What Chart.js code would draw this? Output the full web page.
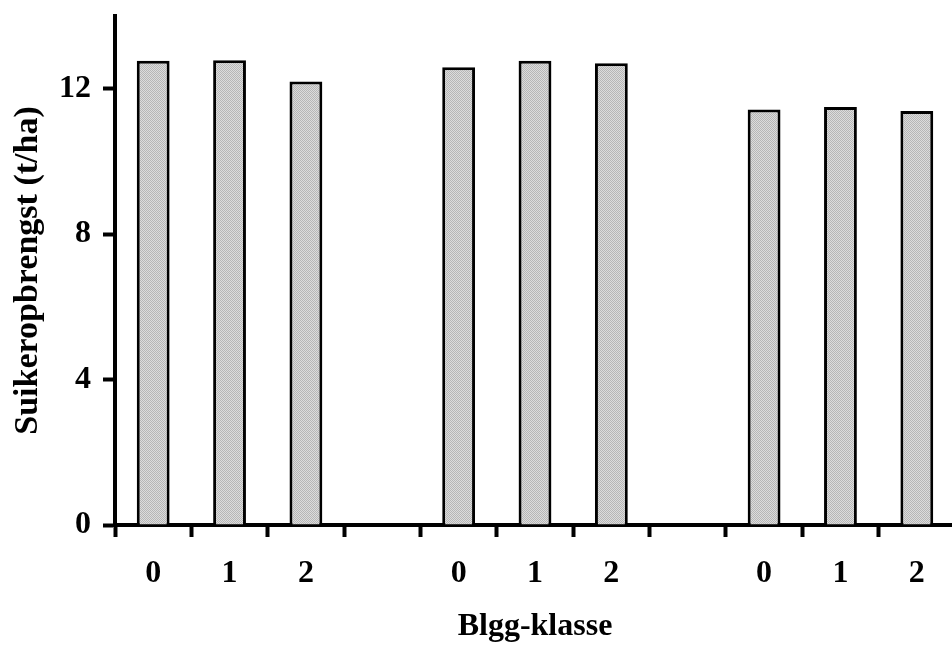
<!DOCTYPE html>
<html>
<head>
<meta charset="utf-8">
<script src="https://cdn.jsdelivr.net/npm/chart.js@4/dist/chart.umd.min.js"></script>
<style>
  html, body { margin: 0; padding: 0; background: #fff; overflow: hidden; }
  canvas { display: block; }
</style>
</head>
<body>
<canvas id="grafiek" width="960" height="646"></canvas>
<script>
// categorieen: drie groepen Blgg-klasse 0,1,2 met een lege kolom ertussen
const klassen = ["0", "1", "2", "", "0", "1", "2", "", "0", "1", "2"];
const suikeropbrengst = [12.77, 12.78, 12.2, null, 12.59, 12.77, 12.7, null, 11.43, 11.5, 11.39];
const yTicks = [0, 4, 8, 12];
const yMax = 14;

const lettertype = "'Liberation Serif', 'Times New Roman', serif";

// grijs stippelpatroon voor de staven
function maakPatroon() {
  const c = document.createElement("canvas");
  c.width = 2;
  c.height = 2;
  const g = c.getContext("2d");
  g.fillStyle = "#dcdcdc";
  g.fillRect(0, 0, 2, 2);
  g.fillStyle = "#b6b6b6";
  g.fillRect(0, 0, 1, 1);
  g.fillRect(1, 1, 1, 1);
  return g.createPattern(c, "repeat");
}

const ctx = document.getElementById("grafiek");

new Chart(ctx, {
  type: "bar",
  data: {
    labels: klassen,
    datasets: [
      {
        data: suikeropbrengst,
        backgroundColor: maakPatroon(),
        borderColor: "#000",
        borderWidth: 3,
        categoryPercentage: 1,
        barPercentage: 0.43
      }
    ]
  },
  options: {
    responsive: false,
    animation: false,
    layout: { padding: { top: 16, right: 5, left: 0, bottom: 0 } },
    plugins: {
      legend: { display: false },
      tooltip: { enabled: false }
    },
    scales: {
      x: {
        offset: true,
        grid: {
          offset: true,
          drawOnChartArea: false,
          tickLength: 12,
          tickWidth: 4,
          tickColor: "#000"
        },
        border: { color: "#000", width: 4 },
        ticks: {
          color: "#000",
          padding: 18,
          maxRotation: 0,
          autoSkip: false,
          font: { family: lettertype, size: 32, weight: "bold" }
        },
        title: {
          display: true,
          text: "Blgg-klasse",
          color: "#000",
          padding: { top: 10, bottom: 0 },
          font: { family: lettertype, size: 32, weight: "bold" }
        },
        afterFit: (scale) => {
          scale.height = 121;
          scale.paddingLeft = 0;
          scale.paddingRight = 0;
        }
      },
      y: {
        min: 0,
        max: yMax,
        afterBuildTicks: (scale) => {
          scale.ticks = yTicks.map((v) => ({ value: v }));
        },
        grid: {
          drawOnChartArea: false,
          tickLength: 12,
          tickWidth: 4,
          tickColor: "#000"
        },
        border: { color: "#000", width: 4 },
        ticks: {
          color: "#000",
          padding: 12,
          font: { family: lettertype, size: 32, weight: "bold" }
        },
        title: {
          display: true,
          text: "Suikeropbrengst (t/ha)",
          color: "#000",
          padding: { top: 8, bottom: 0 },
          font: { family: lettertype, size: 34, weight: "bold" }
        },
        afterFit: (scale) => {
          scale.width = 115;
          scale.paddingTop = 0;
          scale.paddingBottom = 0;
        }
      }
    }
  }
});
</script>
</body>
</html>
